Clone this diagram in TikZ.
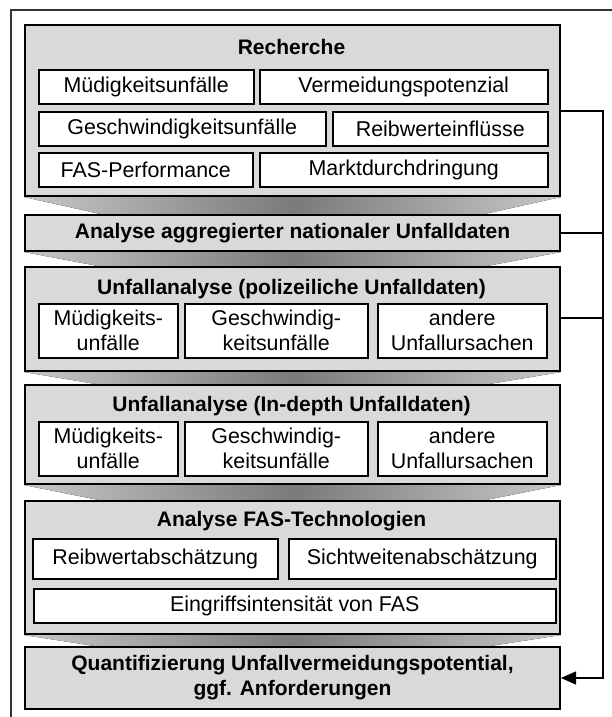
\documentclass[tikz,border=0pt]{standalone}
\usepackage{fontspec}
\setmainfont{Liberation Sans}
\usetikzlibrary{arrows.meta, positioning, calc, backgrounds}
\definecolor{stufengrau}{RGB}{217, 217, 217}

\begin{document}
\begin{tikzpicture}[
                x=1pt, y=-1pt,
                every node/.style={inner sep=0pt, align=center,
                    font=\fontsize{21.4}{25}\selectfont},
                stage/.style={draw, line width=2pt, fill=stufengrau,
                    minimum width=535pt, anchor=north west},
                titel/.style={font=\fontsize{21}{25}\selectfont\bfseries},
                box/.style={draw, line width=1.5pt, fill=white, anchor=north west},
                keil/.style={left color=black!22, right color=black!22, middle color=black!52},
                link/.style={line width=1.2pt},
                arrow/.style={link, -{Triangle[length=15pt, width=13pt]}}
            ]
                \useasboundingbox (0,0) rectangle (612,717);
                \draw[line width=1.5pt, black!80] (11,730) -- (11,10) -- (630,10);

                % Stufen
                \node (rech)  [stage, minimum height=171pt] at (24,24)  {};
                \node (agg)   [stage, minimum height=36pt, titel] at (24,214)
                    {Analyse aggregierter nationaler Unfalldaten};
                \node (pol)   [stage, minimum height=104pt] at (24,266) {};
                \node (ind)   [stage, minimum height=99pt] at (24,384) {};
                \node (fas)   [stage, minimum height=133pt] at (24,500) {};
                \node (quant) [stage, minimum height=62pt, titel] at (24,646)
                    {Quantifizierung Unfallvermeidungspotential,\\ggf. Anforderungen};

                % Recherche
                \node (rechT) [titel] at (291.5,47) {Recherche};
                \node (muedR)  [box, minimum width=215pt, minimum height=34pt] at (38,69)  {Müdigkeitsunfälle};
                \node (vermR)  [box, minimum width=288pt, minimum height=34pt] at (259,69) {Vermeidungspotenzial};
                \node (geschR) [box, minimum width=287pt, minimum height=34pt] at (38,111) {Geschwindigkeitsunfälle};
                \node (reibR)  [box, minimum width=215pt, minimum height=34pt] at (332,111) {Reibwerteinflüsse};
                \node (perfR)  [box, minimum width=214pt, minimum height=34pt] at (38,152) {FAS-Performance};
                \node (marktR) [box, minimum width=288pt, minimum height=34pt] at (259,152) {Marktdurchdringung};

                % Unfallanalyse polizeilich
                \node (polT) [titel] at (291.5,289) {Unfallanalyse (polizeiliche Unfalldaten)};
                \node (muedP)  [box, minimum width=139pt, minimum height=54pt] at (38,303)  {Müdigkeits-\\unfälle};
                \node (geschP) [box, minimum width=183pt, minimum height=54pt] at (184,303) {Geschwindig-\\keitsunfälle};
                \node (andP)   [box, minimum width=169pt, minimum height=54pt] at (377,303) {andere\\Unfallursachen};

                % Unfallanalyse in-depth
                \node (indT) [titel] at (291.5,406) {Unfallanalyse (In-depth Unfalldaten)};
                \node (muedI)  [box, minimum width=139pt, minimum height=54pt] at (38,421)  {Müdigkeits-\\unfälle};
                \node (geschI) [box, minimum width=183pt, minimum height=54pt] at (184,421) {Geschwindig-\\keitsunfälle};
                \node (andI)   [box, minimum width=169pt, minimum height=54pt] at (377,421) {andere\\Unfallursachen};

                % FAS-Technologien
                \node (fasT) [titel] at (291.5,521) {Analyse FAS-Technologien};
                \node (reibF)  [box, minimum width=245pt, minimum height=40pt] at (32,538)  {Reibwertabschätzung};
                \node (sichtF) [box, minimum width=267pt, minimum height=40pt] at (288,538) {Sichtweitenabschätzung};
                \node (eingF)  [box, minimum width=522pt, minimum height=34pt] at (33,588)  {Eingriffsintensität von FAS};

                % Keile zwischen den Stufen
                \begin{scope}[on background layer]
                    \fill[keil] (rech.south west) -- (rech.south east) -- ($(agg.north east)+(-90,3)$) -- ($(agg.north west)+(90,3)$) -- cycle;
                    \fill[keil] (agg.south west) -- (agg.south east) -- ($(pol.north east)+(-90,3)$) -- ($(pol.north west)+(90,3)$) -- cycle;
                    \fill[keil] (pol.south west) -- (pol.south east) -- ($(ind.north east)+(-90,3)$) -- ($(ind.north west)+(90,3)$) -- cycle;
                    \fill[keil] (ind.south west) -- (ind.south east) -- ($(fas.north east)+(-90,3)$) -- ($(fas.north west)+(90,3)$) -- cycle;
                    \fill[keil] (fas.south west) -- (fas.south east) -- ($(quant.north east)+(-90,3)$) -- ($(quant.north west)+(90,3)$) -- cycle;
                \end{scope}

                % Rueckfuehrung rechts
                \coordinate (bus) at (603,111);
                \coordinate (polout) at (603,318);
                \draw[arrow] (rech.east |- bus) -- (bus) |- (quant.east);
                \draw[link] (agg.east) -- (agg.east -| bus);
                \draw[link] (pol.east |- polout) -- (polout);
            \end{tikzpicture}
\end{document}
